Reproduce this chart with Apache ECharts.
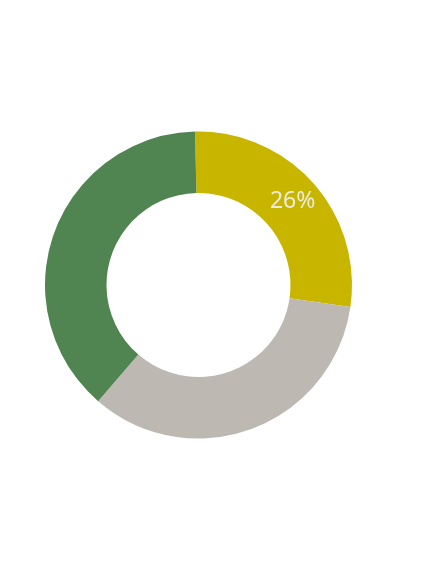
<!DOCTYPE html>
<html>
<head>
<meta charset="utf-8">
<script src="https://cdn.jsdelivr.net/npm/echarts@6/dist/echarts.min.js"></script>
<style>
  html, body { margin: 0; padding: 0; background: #fff; }
  #chart { width: 425px; height: 567px; }
</style>
</head>
<body>
<div id="chart"></div>
<script>
// slice data, clockwise from the top
const names = ['A', 'B', 'C'];
const values = [26, 32, 36];
const colors = ['#c8b500', '#bdb9b2', '#508552'];
// only the first slice carries a label
const showLabel = [true, false, false];

const chart = echarts.init(document.getElementById('chart'));
chart.setOption({
  animation: false,
  series: [
    {
      type: 'pie',
      center: [198.5, 285],
      radius: [92, 153.5],
      startAngle: 91.3,
      clockwise: true,
      silent: true,
      label: {
        position: 'inside',
        formatter: p => p.value + '%',
        color: '#eeebdc',
        fontSize: 23,
        fontFamily: 'Noto Sans'
      },
      labelLine: { show: false },
      itemStyle: { borderWidth: 0 },
      data: values.map((v, i) => ({
        name: names[i],
        value: v,
        itemStyle: { color: colors[i] },
        label: { show: showLabel[i] }
      }))
    }
  ]
});
</script>
</body>
</html>
